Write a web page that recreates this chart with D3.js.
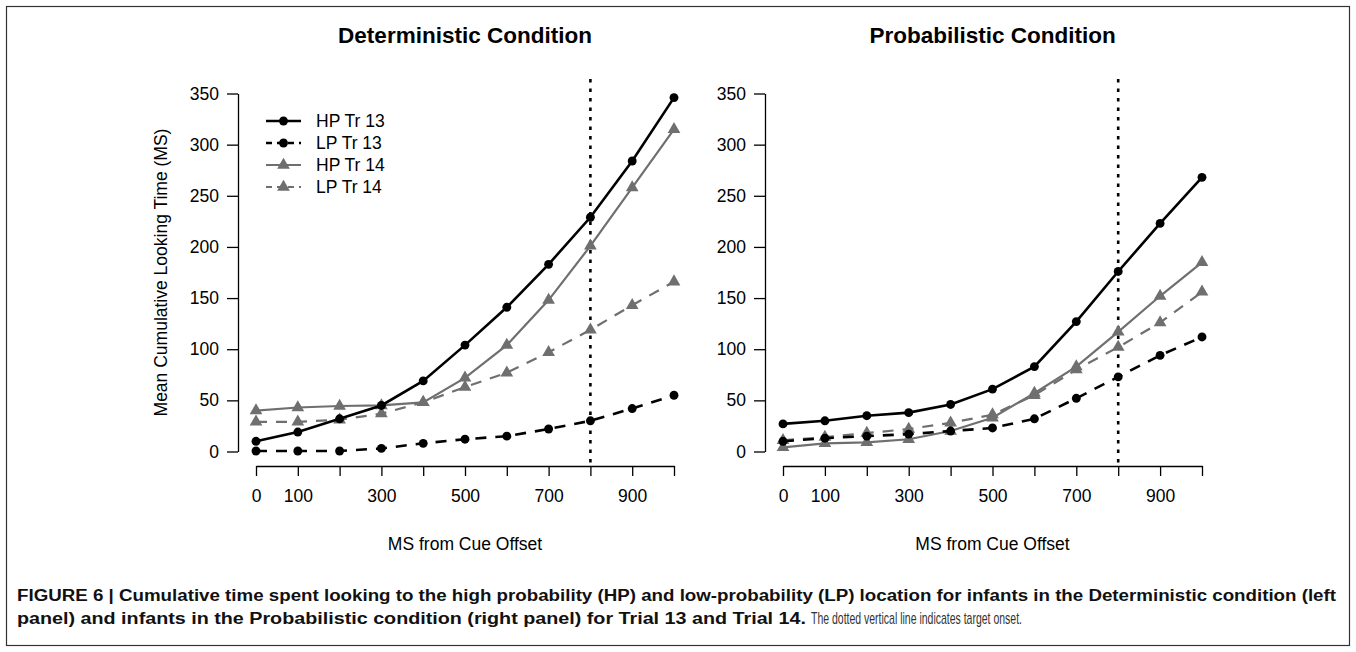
<!DOCTYPE html>
<html>
<head>
  <meta charset="utf-8">
  <script type="text/javascript" src="https://cdn.jsdelivr.net/npm/d3@7"></script>
  <title>Figure 6</title>
  <style>
    body { margin: 0; background: #fff; }
    svg text { font-family: "Liberation Sans", Arial, sans-serif; }
  </style>
</head>
<body>

<svg id="fig" width="1356" height="652"></svg>

<script>
  // time points (ms from cue offset)
  var msPoints = [0, 100, 200, 300, 400, 500, 600, 700, 800, 900, 1000];
  var xLabelTicks = [0, 100, 300, 500, 700, 900];
  var yTicks = [0, 50, 100, 150, 200, 250, 300, 350];
  var targetOnset = 800;

  // Deterministic condition
  var detHP13 = [10, 19, 32, 45, 69, 104, 141, 183, 229, 284, 346];
  var detLP13 = [0.5, 0.5, 0.5, 3, 8, 12, 15, 22, 30, 42, 55];
  var detHP14 = [40, 43, 44.5, 45, 48, 72, 104, 148, 201, 258, 315];
  var detLP14 = [29, 29, 31, 37, 48, 63, 77, 97, 119, 143, 166];

  // Probabilistic condition
  var probHP13 = [27, 30, 35, 38, 46, 61, 83, 127, 176, 223, 268];
  var probLP13 = [10, 13, 15, 17, 20, 23, 32, 52, 73, 94, 112];
  var probHP14 = [4, 8, 9, 12, 20, 33, 57, 83, 117, 152, 185];
  var probLP14 = [11, 14, 18, 22, 28, 36, 55, 80, 102, 126, 156];

  var seriesNames = ["HP Tr 13", "LP Tr 13", "HP Tr 14", "LP Tr 14"];

  var gray = "#6f6f6f";
  var styles = [
    { color: "#000", width: 2.6, dash: null, shape: "circle" },
    { color: "#000", width: 2.6, dash: "11,9", shape: "circle" },
    { color: gray, width: 2.2, dash: null, shape: "triangle" },
    { color: gray, width: 2.2, dash: "11,9", shape: "triangle" }
  ];

  var svg = d3.select("#fig");

  // frame around the figure
  svg.append("rect")
      .attr("x", 6.5).attr("y", 6.5)
      .attr("width", 1343).attr("height", 639)
      .attr("fill", "none")
      .attr("stroke", "#333")
      .attr("stroke-width", 1.2);

  function symbol(shape) {
    if (shape === "circle") return d3.symbol().type(d3.symbolCircle).size(62)();
    return d3.symbol().type(d3.symbolTriangle).size(70)();
  }

  function drawPanel(opts) {
    var x = d3.scaleLinear().domain([0, 1000]).range([opts.x0, opts.x1]);
    var y = d3.scaleLinear().domain([0, 350]).range([451.5, 93.5]);
    var g = svg.append("g");

    // title
    g.append("text")
        .attr("x", (opts.x0 + opts.x1) / 2)
        .attr("y", 43)
        .attr("text-anchor", "middle")
        .attr("font-size", 22.5)
        .attr("font-weight", "bold")
        .text(opts.title);

    // y axis
    var yAxis = d3.axisLeft(y).tickValues(yTicks).tickSize(11).tickPadding(8).tickSizeOuter(0);
    var ya = g.append("g")
        .attr("transform", "translate(" + (opts.x0 - 18) + ",0)")
        .call(yAxis);
    ya.select(".domain").attr("stroke", "#000").attr("stroke-width", 1.3);
    ya.selectAll(".tick line").attr("stroke", "#000").attr("stroke-width", 1.3);
    ya.selectAll(".tick text").attr("font-size", 17.5).attr("fill", "#000")
        .attr("font-family", "'Liberation Sans', Arial, sans-serif");

    // x axis
    var xAxis = d3.axisBottom(x).tickValues(msPoints).tickSize(10).tickPadding(14).tickSizeOuter(0)
        .tickFormat(function(d) { return xLabelTicks.indexOf(d) >= 0 ? d : ""; });
    var xa = g.append("g")
        .attr("transform", "translate(0,466)")
        .call(xAxis);
    xa.select(".domain").attr("stroke", "#000").attr("stroke-width", 1.3);
    xa.selectAll(".tick line").attr("stroke", "#000").attr("stroke-width", 1.3);
    xa.selectAll(".tick text").attr("font-size", 17.5).attr("fill", "#000")
        .attr("font-family", "'Liberation Sans', Arial, sans-serif");

    // x label
    g.append("text")
        .attr("x", (opts.x0 + opts.x1) / 2)
        .attr("y", 550)
        .attr("text-anchor", "middle")
        .attr("font-size", 17.5)
        .text("MS from Cue Offset");

    if (opts.ylabel) {
      g.append("text")
          .attr("transform", "translate(167," + ((93.5 + 451.5) / 2) + ") rotate(-90)")
          .attr("text-anchor", "middle")
          .attr("font-size", 17.5)
          .text(opts.ylabel);
    }

    // target onset line
    g.append("line")
        .attr("x1", x(targetOnset)).attr("x2", x(targetOnset))
        .attr("y1", 79).attr("y2", 466)
        .attr("stroke", "#000")
        .attr("stroke-width", 2.6)
        .attr("stroke-dasharray", "3.5,6");

    var line = d3.line()
        .x(function(d, i) { return x(msPoints[i]); })
        .y(function(d) { return y(d); });

    // draw in order: gray first then black on top
    [3, 2, 1, 0].forEach(function(k) {
      var s = styles[k];
      var vals = opts.series[k];
      g.append("path")
          .attr("d", line(vals))
          .attr("fill", "none")
          .attr("stroke", s.color)
          .attr("stroke-width", s.width)
          .attr("stroke-dasharray", s.dash);
      g.selectAll(null)
          .data(vals)
          .enter().append("path")
          .attr("d", symbol(s.shape))
          .attr("transform", function(d, i) {
            return "translate(" + x(msPoints[i]) + "," + y(d) + ")";
          })
          .attr("fill", s.color);
    });

    if (opts.legend) {
      var lg = g.append("g");
      seriesNames.forEach(function(name, k) {
        var s = styles[k];
        var ly = 121 + k * 22;
        lg.append("line")
            .attr("x1", 266).attr("x2", 301)
            .attr("y1", ly).attr("y2", ly)
            .attr("stroke", s.color)
            .attr("stroke-width", s.width)
            .attr("stroke-dasharray", s.dash ? "6,5" : null);
        lg.append("path")
            .attr("d", symbol(s.shape))
            .attr("transform", "translate(283.5," + ly + ")")
            .attr("fill", s.color);
        lg.append("text")
            .attr("x", 316)
            .attr("y", ly + 6)
            .attr("font-size", 17.5)
            .text(name);
      });
    }
  }

  drawPanel({
    title: "Deterministic Condition",
    x0: 256, x1: 674,
    ylabel: "Mean Cumulative Looking Time (MS)",
    legend: true,
    series: [detHP13, detLP13, detHP14, detLP14]
  });

  drawPanel({
    title: "Probabilistic Condition",
    x0: 783, x1: 1202,
    ylabel: null,
    legend: false,
    series: [probHP13, probLP13, probHP14, probLP14]
  });

  // caption
  var capFont = "'Liberation Sans Narrow', 'Arial Narrow', 'Liberation Sans', sans-serif";
  svg.append("text")
      .attr("x", 17).attr("y", 601)
      .attr("font-size", 16)
      .attr("font-weight", "bold")
      .attr("font-family", capFont)
      .attr("fill", "#111")
      .attr("textLength", 1319)
      .attr("lengthAdjust", "spacingAndGlyphs")
      .text("FIGURE 6 | Cumulative time spent looking to the high probability (HP) and low-probability (LP) location for infants in the Deterministic condition (left");
  svg.append("text")
      .attr("x", 17).attr("y", 624)
      .attr("font-size", 16)
      .attr("font-weight", "bold")
      .attr("font-family", capFont)
      .attr("fill", "#111")
      .attr("textLength", 789)
      .attr("lengthAdjust", "spacingAndGlyphs")
      .text("panel) and infants in the Probabilistic condition (right panel) for Trial 13 and Trial 14.");
  svg.append("text")
      .attr("x", 811).attr("y", 624)
      .attr("font-size", 17)
      .attr("font-family", capFont)
      .attr("fill", "#333")
      .attr("textLength", 211)
      .attr("lengthAdjust", "spacingAndGlyphs")
      .text("The dotted vertical line indicates target onset.");
</script>

</body>
</html>
